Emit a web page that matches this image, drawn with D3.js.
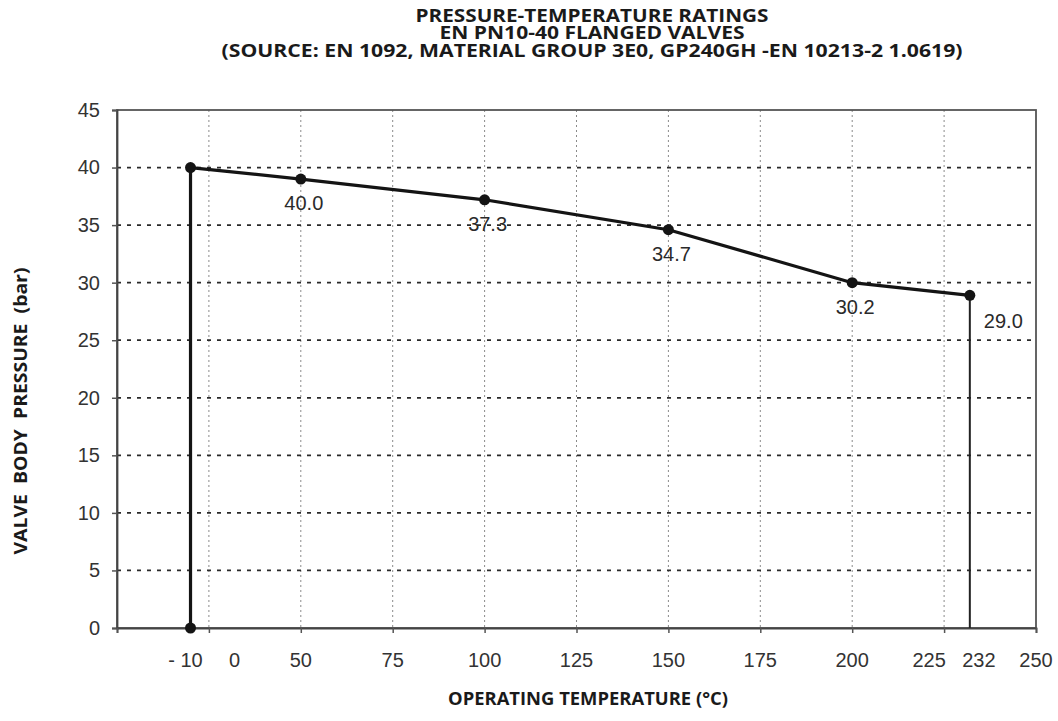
<!DOCTYPE html>
<html>
<head>
<meta charset="utf-8">
<script src="https://cdn.jsdelivr.net/npm/d3@7"></script>
<style>
  body { margin: 0; background: #fff; }
  svg { display: block; }
</style>
</head>
<body>
<svg width="1058" height="721"></svg>
<script>
// input data
// temperatures (°C) of the rating points
const temperatures = [-10, 50, 100, 150, 200, 232];
// pressure where each point is drawn (bar)
const pressures = [40, 39, 37.2, 34.6, 30.0, 28.9];
// text printed next to each point
const pointLabels = ['', '40.0', '37.3', '34.7', '30.2', '29.0'];
// tick labels of the temperature axis
const xTickLabels = [-10, 0, 50, 75, 100, 125, 150, 175, 200, 225, 232, 250];
// tick labels of the pressure axis
const yTickLabels = [0, 5, 10, 15, 20, 25, 30, 35, 40, 45];

const titleLines = [
  'PRESSURE-TEMPERATURE RATINGS',
  'EN PN10-40 FLANGED VALVES',
  '(SOURCE: EN 1092, MATERIAL GROUP 3E0, GP240GH -EN 10213-2 1.0619)',
];

const svg = d3.select('svg');

const margin = {
  top: 110,
  right: 22,
  bottom: 93,
  left: 117,
};
const width = 1058 - (margin.left + margin.right);
const height = 721 - (margin.top + margin.bottom);

const group = svg
  .append('g')
  .attr('transform', `translate(${margin.left} ${margin.top})`);

// the axis itself runs 0..250 in steps of 25 (grid and tick marks)
const pos = d3
  .scaleLinear()
  .domain([0, 250])
  .range([0, width]);

// temperatures are squeezed into the first step, linear from 50 onward
const x = d3
  .scaleLinear()
  .domain([-10, 0, 50, 250])
  .range([20, 32, 50, 250].map(pos));

const y = d3
  .scaleLinear()
  .domain([0, 45])
  .range([height, 0]);

// GRID
group
  .append('g')
  .selectAll('line')
  .data(d3.range(25, 250, 25))
  .enter()
  .append('line')
  .attr('x1', d => pos(d))
  .attr('x2', d => pos(d))
  .attr('y1', 0)
  .attr('y2', height)
  .attr('stroke', '#8a8a8a')
  .attr('stroke-width', 1)
  .attr('stroke-dasharray', '2 3');

group
  .append('g')
  .selectAll('line')
  .data(yTickLabels.filter(d => d > 0 && d < 45))
  .enter()
  .append('line')
  .attr('x1', 0)
  .attr('x2', width)
  .attr('y1', d => y(d))
  .attr('y2', d => y(d))
  .attr('stroke', '#2a2a2a')
  .attr('stroke-width', 1.8)
  .attr('stroke-dasharray', '4 6');

// FRAME
group
  .append('rect')
  .attr('x', 0)
  .attr('y', 0)
  .attr('width', width)
  .attr('height', height)
  .attr('fill', 'none')
  .attr('stroke', '#555')
  .attr('stroke-width', 1.8);

// AXES
const yAxis = group
  .append('g')
  .call(
    d3
      .axisLeft(y)
      .tickValues(yTickLabels)
      .tickSize(5)
      .tickPadding(12)
  );

const xAxis = group
  .append('g')
  .attr('transform', `translate(0 ${height})`)
  .call(
    d3
      .axisBottom(pos)
      .tickValues(d3.range(0, 251, 25))
      .tickSize(5)
      .tickFormat('')
  );

[yAxis, xAxis].forEach(axis => {
  axis.select('.domain').attr('stroke', '#444').attr('stroke-width', 1.8);
  axis.selectAll('.tick line').attr('stroke', '#555').attr('stroke-width', 1.5);
});

yAxis
  .selectAll('text')
  .attr('font-family', '"Liberation Sans", Arial, sans-serif')
  .attr('font-size', 20)
  .attr('fill', '#333');

// temperature labels sit on the temperature scale, not on the tick marks
// (225 is nudged left to make room for 232)
const labelShift = { '-10': -5, 225: -15, 232: 9 };

group
  .append('g')
  .selectAll('text')
  .data(xTickLabels)
  .enter()
  .append('text')
  .attr('x', d => x(d))
  .attr('y', height + 39)
  .attr('dx', d => labelShift[d] || 0)
  .attr('text-anchor', 'middle')
  .attr('font-family', '"Liberation Sans", Arial, sans-serif')
  .attr('font-size', 20)
  .attr('fill', '#333')
  .style('white-space', 'pre')
  .text(d => (d < 0 ? `- ${-d}` : d));

// RATING LINE
const points = temperatures.map((t, i) => ({
  t,
  p: pressures[i],
  label: pointLabels[i],
}));
const first = points[0];
const last = points[points.length - 1];

const line = d3
  .line()
  .x(d => x(d.t))
  .y(d => y(d.p));

// from the axis up at the lowest temperature and along the ratings
group
  .append('path')
  .attr('d', line([{ t: first.t, p: 0 }, ...points]))
  .attr('fill', 'none')
  .attr('stroke', '#141414')
  .attr('stroke-width', 3.2)
  .attr('stroke-linejoin', 'round');

// drop back to the axis at the highest temperature
group
  .append('path')
  .attr('d', line([last, { t: last.t, p: 0 }]))
  .attr('fill', 'none')
  .attr('stroke', '#222')
  .attr('stroke-width', 2);

group
  .append('g')
  .selectAll('circle')
  .data([{ t: first.t, p: 0 }, ...points])
  .enter()
  .append('circle')
  .attr('cx', d => x(d.t))
  .attr('cy', d => y(d.p))
  .attr('r', 5.5)
  .attr('fill', '#141414');

// value labels below the points, the last one to its right
group
  .append('g')
  .selectAll('text')
  .data(points.filter(d => d.label))
  .enter()
  .append('text')
  .attr('x', d => x(d.t) + (d === last ? 14 : 3))
  .attr('y', d => y(d.p) + (d === last ? 33 : 31))
  .attr('text-anchor', d => (d === last ? 'start' : 'middle'))
  .attr('font-family', '"Liberation Sans", Arial, sans-serif')
  .attr('font-size', 20)
  .attr('fill', '#2a2a2a')
  .text(d => d.label);

// TITLES
const boldFont = '"Open Sans", "DejaVu Sans", sans-serif';
const titleWidths = [353, 305, 741];

// one text element, one tspan per line
svg
  .append('text')
  .attr('text-anchor', 'middle')
  .attr('font-family', boldFont)
  .attr('font-weight', 700)
  .attr('font-size', 17.5)
  .attr('fill', '#1a1a1a')
  .selectAll('tspan')
  .data(titleLines)
  .enter()
  .append('tspan')
  .attr('x', 592)
  .attr('y', (d, i) => 22 + i * 17.3)
  .attr('textLength', (d, i) => titleWidths[i])
  .attr('lengthAdjust', 'spacingAndGlyphs')
  .text(d => d);

svg
  .append('text')
  .attr('x', 588)
  .attr('y', 705)
  .attr('text-anchor', 'middle')
  .attr('font-family', boldFont)
  .attr('font-weight', 700)
  .attr('font-size', 17)
  .attr('fill', '#1a1a1a')
  .attr('textLength', 280)
  .attr('lengthAdjust', 'spacingAndGlyphs')
  .text('OPERATING TEMPERATURE (°C)');

svg
  .append('text')
  .attr('transform', 'translate(27 411) rotate(-90)')
  .attr('text-anchor', 'middle')
  .attr('font-family', boldFont)
  .attr('font-weight', 700)
  .attr('font-size', 17)
  .attr('fill', '#1a1a1a')
  .attr('textLength', 287)
  .attr('lengthAdjust', 'spacingAndGlyphs')
  .style('white-space', 'pre')
  .text('VALVE  BODY  PRESSURE  (bar)');
</script>
</body>
</html>
